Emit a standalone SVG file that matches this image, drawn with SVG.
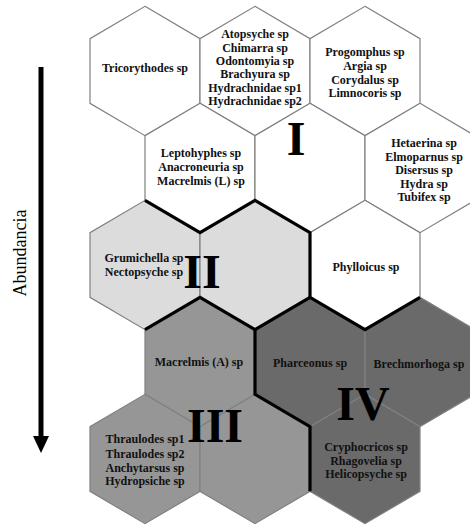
<svg xmlns="http://www.w3.org/2000/svg" xmlns:xlink="http://www.w3.org/1999/xlink" width="470" height="527" viewBox="0 0 470 527">
<style>
.hex{stroke:#808080;stroke-width:1.2}
.w{fill:#ffffff}
.l{fill:#dcdcdc}
.m{fill:#969696}
.d{fill:#6a6a6a}
.t{font-family:"Liberation Serif","Times New Roman",serif;font-weight:bold;font-size:12px;fill:#111;text-anchor:middle}
.num{font-family:"Liberation Serif","Times New Roman",serif;font-weight:bold;font-size:48px;fill:#000;text-anchor:middle}
.bd{fill:none;stroke:#000;stroke-width:3.2;stroke-linejoin:miter}
</style>
<defs>
<path id="hx" d="M0,-64.67 L55,-32.33 L55,32.33 L0,64.67 L-55,32.33 L-55,-32.33Z"/>
</defs>
<rect width="470" height="527" fill="#ffffff"/>
<g id="hexes">
<g id="n-tricorythodes"><use xlink:href="#hx" href="#hx" x="145" y="71" class="hex w"/><text class="t" x="145" y="72">Tricorythodes sp</text></g>
<g id="n-atopsyche"><use xlink:href="#hx" href="#hx" x="255" y="71" class="hex w"/><text class="t"><tspan x="255" y="38">Atopsyche sp</tspan><tspan x="255" y="51.5">Chimarra sp</tspan><tspan x="255" y="65">Odontomyia sp</tspan><tspan x="255" y="78">Brachyura sp</tspan><tspan x="255" y="91.5">Hydrachnidae sp1</tspan><tspan x="255" y="104.5">Hydrachnidae sp2</tspan></text></g>
<g id="n-progomphus"><use xlink:href="#hx" href="#hx" x="365" y="71" class="hex w"/><text class="t"><tspan x="365" y="56">Progomphus sp</tspan><tspan x="365" y="70">Argia sp</tspan><tspan x="365" y="84">Corydalus sp</tspan><tspan x="365" y="97">Limnocoris sp</tspan></text></g>
<g id="n-leptohyphes"><use xlink:href="#hx" href="#hx" x="200" y="168" class="hex w"/><text class="t"><tspan x="201" y="157">Leptohyphes sp</tspan><tspan x="201" y="171">Anacroneuria sp</tspan><tspan x="201" y="185">Macrelmis (L) sp</tspan></text></g>
<g id="n-group1"><use xlink:href="#hx" href="#hx" x="310" y="168" class="hex w"/></g>
<g id="n-hetaerina"><use xlink:href="#hx" href="#hx" x="420" y="168" class="hex w"/><text class="t"><tspan x="424" y="147">Hetaerina sp</tspan><tspan x="424" y="160.5">Elmoparnus sp</tspan><tspan x="424" y="174">Disersus sp</tspan><tspan x="424" y="187.5">Hydra sp</tspan><tspan x="424" y="201">Tubifex sp</tspan></text></g>
<g id="n-grumichella"><use xlink:href="#hx" href="#hx" x="145" y="265" class="hex l"/><text class="t"><tspan x="144" y="262">Grumichella sp</tspan><tspan x="144" y="276">Nectopsyche sp</tspan></text></g>
<g id="n-group2"><use xlink:href="#hx" href="#hx" x="255" y="265" class="hex l"/></g>
<g id="n-phylloicus"><use xlink:href="#hx" href="#hx" x="365" y="265" class="hex w"/><text class="t" x="366" y="271">Phylloicus sp</text></g>
<g id="n-macrelmisA"><use xlink:href="#hx" href="#hx" x="200" y="362" class="hex m"/><text class="t" x="199" y="366">Macrelmis (A) sp</text></g>
<g id="n-pharceonus"><use xlink:href="#hx" href="#hx" x="310" y="362" class="hex d"/><text class="t" x="310" y="367">Pharceonus sp</text></g>
<g id="n-brechmorhoga"><use xlink:href="#hx" href="#hx" x="420" y="362" class="hex d"/><text class="t" x="419" y="368">Brechmorhoga sp</text></g>
<g id="n-thraulodes"><use xlink:href="#hx" href="#hx" x="145" y="459" class="hex m"/><text class="t"><tspan x="145" y="443">Thraulodes sp1</tspan><tspan x="145" y="457.5">Thraulodes sp2</tspan><tspan x="145" y="471.5">Anchytarsus sp</tspan><tspan x="145" y="485">Hydropsiche sp</tspan></text></g>
<g id="n-group3"><use xlink:href="#hx" href="#hx" x="255" y="459" class="hex m"/></g>
<g id="n-cryphocricos"><use xlink:href="#hx" href="#hx" x="365" y="459" class="hex d"/><text class="t"><tspan x="366" y="451">Cryphocricos sp</tspan><tspan x="366" y="464.5">Rhagovelia sp</tspan><tspan x="366" y="478">Helicopsyche sp</tspan></text></g>
</g>
<g id="boundaries">
<polyline class="bd" points="145,200.33 200,232.67 255,200.33 310,232.67 310,297.33 365,329.67 420,297.33"/>
<polyline class="bd" points="145,329.67 200,297.33 255,329.67 310,297.33"/>
<polyline class="bd" points="255,329.67 255,394.33 310,426.67 310,491.33"/>
</g>
<g id="labels">
<text class="num" x="296" y="155">I</text>
<text class="num" x="202" y="288">II</text>
<text class="num" x="215" y="442">III</text>
<text class="num" x="363" y="420">IV</text>
</g>
<g id="connectors">
<line x1="41" y1="67" x2="41" y2="440" stroke="#000" stroke-width="5"/>
<polygon points="33,436 49,436 41,453" fill="#000"/>
<text x="26" y="253" transform="rotate(-90 26 253)" font-family="Liberation Serif,'Times New Roman',serif" font-size="18" text-anchor="middle" fill="#000">Abundancia</text>
</g>
</svg>
